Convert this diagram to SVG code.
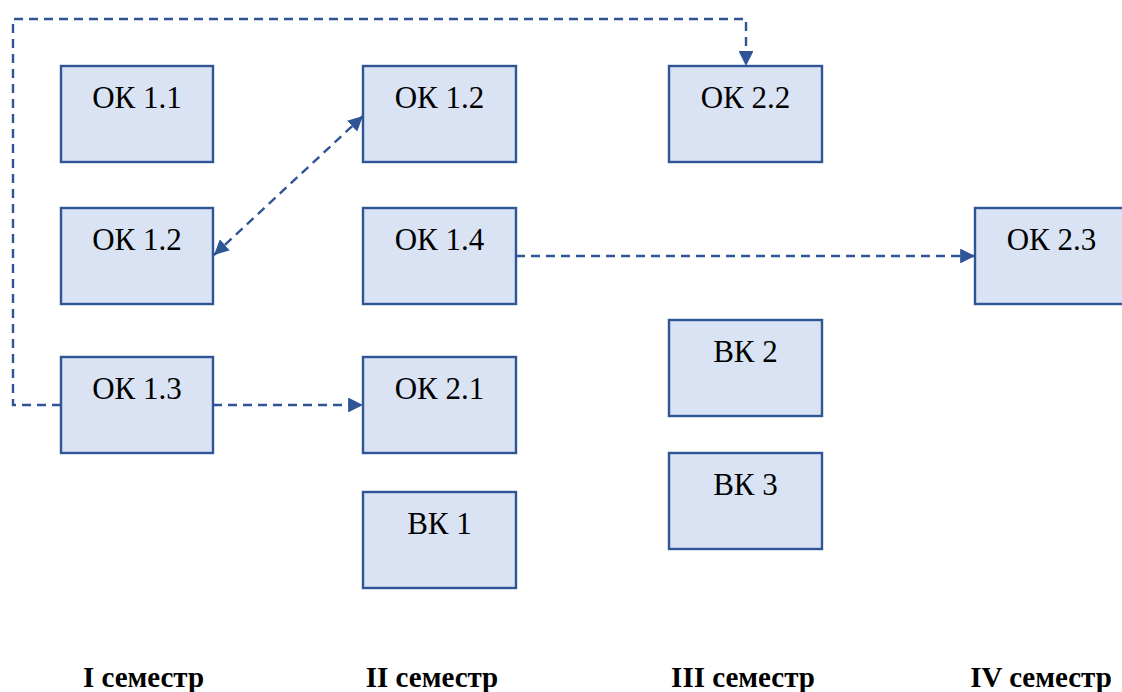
<svg xmlns="http://www.w3.org/2000/svg" width="1122" height="692" viewBox="0 0 1122 692">
<style>
.box{fill:#DAE3F3;stroke:#2F5597;stroke-width:2.4}
.lbl{font-family:"Liberation Serif","Times New Roman",serif;font-size:31px;fill:#000;text-anchor:middle}
.sem{font-family:"Liberation Serif","Times New Roman",serif;font-size:29px;font-weight:bold;fill:#000;text-anchor:middle}
.con{fill:none;stroke:#2F5597;stroke-width:2.4;stroke-dasharray:9,6}
</style>
<defs>
<marker id="ah" viewBox="0 0 10 10" refX="10" refY="5" markerWidth="6.2" markerHeight="6.2" orient="auto-start-reverse" markerUnits="strokeWidth">
<path d="M0,0 L10,5 L0,10 z" fill="#2F5597"/>
</marker>
</defs>
<rect width="1122" height="692" fill="#fff"/>
<g id="connectors">
<path class="con" d="M61,405 H13 V19 H746 V66" marker-end="url(#ah)"/>
<path class="con" d="M213,405 H363" marker-end="url(#ah)"/>
<path class="con" d="M516,256 H975" marker-end="url(#ah)"/>
<path class="con" d="M214,255 L363,116" marker-start="url(#ah)" marker-end="url(#ah)"/>
</g>
<g id="ok11"><rect class="box" x="61" y="66" width="152" height="96"/><text class="lbl" x="137" y="108">ОК 1.1</text></g>
<g id="ok12a"><rect class="box" x="61" y="208" width="152" height="96"/><text class="lbl" x="137" y="250">ОК 1.2</text></g>
<g id="ok13"><rect class="box" x="61" y="357" width="152" height="96"/><text class="lbl" x="137" y="399">ОК 1.3</text></g>
<g id="ok12b"><rect class="box" x="363" y="66" width="153" height="96"/><text class="lbl" x="439.5" y="108">ОК 1.2</text></g>
<g id="ok14"><rect class="box" x="363" y="208" width="153" height="96"/><text class="lbl" x="439.5" y="250">ОК 1.4</text></g>
<g id="ok21"><rect class="box" x="363" y="357" width="153" height="96"/><text class="lbl" x="439.5" y="399">ОК 2.1</text></g>
<g id="vk1"><rect class="box" x="363" y="492" width="153" height="96"/><text class="lbl" x="439.5" y="534">ВК 1</text></g>
<g id="ok22"><rect class="box" x="669" y="66" width="153" height="96"/><text class="lbl" x="745.5" y="108">ОК 2.2</text></g>
<g id="vk2"><rect class="box" x="669" y="320" width="153" height="96"/><text class="lbl" x="745.5" y="362">ВК 2</text></g>
<g id="vk3"><rect class="box" x="669" y="453" width="153" height="96"/><text class="lbl" x="745.5" y="495">ВК 3</text></g>
<g id="ok23"><rect class="box" x="975" y="208" width="153" height="96"/><text class="lbl" x="1051.5" y="250">ОК 2.3</text></g>
<g id="semesters">
<text class="sem" x="143.5" y="687">I семестр</text>
<text class="sem" x="432" y="687">II семестр</text>
<text class="sem" x="743" y="687">III семестр</text>
<text class="sem" x="1041" y="687">IV семестр</text>
</g>
</svg>
